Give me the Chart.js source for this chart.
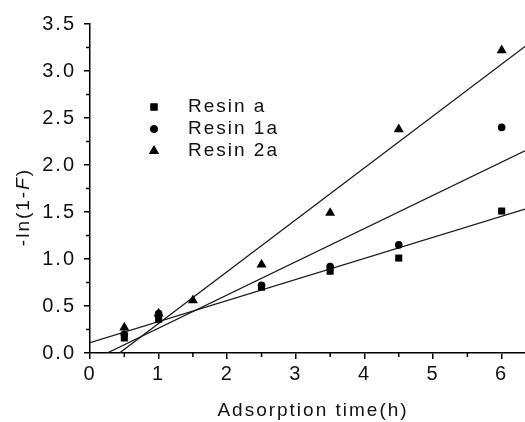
<!DOCTYPE html>
<html>
<head>
<meta charset="utf-8">
<script src="https://cdn.jsdelivr.net/npm/chart.js@4/dist/chart.umd.min.js"></script>
<style>
  html, body { margin: 0; padding: 0; background: #fff; }
  #c { display: block; }
</style>
</head>
<body>
<canvas id="c" width="525" height="422"></canvas>
<script>
// ---- data ----
const times    = [0.5, 1, 1.5, 2.5, 3.5, 4.5, 6];
const resinA   = [0.16, 0.36, null, 0.70, 0.87, 1.01, 1.51];
const resin1a  = [0.20, 0.42, null, 0.72, 0.92, 1.15, 2.40];
const resin2a  = [0.27, 0.42, 0.56, 0.94, 1.49, 2.38, 3.22];

// fitted straight lines (end points)
const fitAX  = [0, 6.34],    fitAY  = [0.11, 1.53];
const fit1aX = [0.25, 6.34], fit1aY = [0, 2.15];
const fit2aX = [0.43, 6.34], fit2aY = [0, 3.26];

const seriesNames = ['Resin a', 'Resin 1a', 'Resin 2a'];
const yTicks = [0, 0.5, 1.0, 1.5, 2.0, 2.5, 3.0, 3.5];
const xTicks = [0, 1, 2, 3, 4, 5, 6];

const pts = (xs, ys) => xs.map((x, i) => ({ x: x, y: ys[i] })).filter(p => p.y !== null);

const FONT = "'Liberation Sans', Arial, sans-serif";
const INK = '#111';

const styles = [
  { pointStyle: 'rect', radius: 5 },
  { pointStyle: 'circle', radius: 3.8 },
  { pointStyle: 'triangle', radius: 5.8 }
];

const scatterDs = (label, ys, st) => ({
  label: label,
  data: pts(times, ys),
  showLine: false,
  pointStyle: st.pointStyle,
  pointRadius: st.radius,
  pointHoverRadius: st.radius,
  backgroundColor: '#000',
  borderColor: '#000',
  borderWidth: 0
});
const lineDs = (xs, ys) => ({
  label: 'fit',
  data: pts(xs, ys),
  showLine: true,
  pointRadius: 0,
  borderColor: '#1a1a1a',
  borderWidth: 1.3,
  fill: false
});

const decor = {
  id: 'decor',
  beforeDraw(chart) { chart.ctx.letterSpacing = '2px'; },
  afterDraw(chart) {
    const ctx = chart.ctx;
    const xs = chart.scales.x, ys = chart.scales.y;
    ctx.save();
    ctx.strokeStyle = '#000';
    ctx.lineWidth = 1.5;
    // minor ticks
    ctx.beginPath();
    for (let v = 0.25; v < 3.5; v += 0.5) {
      const py = ys.getPixelForValue(v);
      ctx.moveTo(xs.left, py); ctx.lineTo(xs.left - 4, py);
    }
    for (let v = 0.5; v < 6.34; v += 1) {
      const px = xs.getPixelForValue(v);
      ctx.moveTo(px, ys.bottom); ctx.lineTo(px, ys.bottom + 4);
    }
    ctx.stroke();

    // legend
    ctx.fillStyle = '#000';
    ctx.letterSpacing = '2px';
    ctx.font = '19px ' + FONT;
    ctx.textBaseline = 'middle';
    ctx.textAlign = 'left';
    const rowsY = [107, 129, 151];
    seriesNames.forEach((n, i) => {
      Chart.helpers.drawPoint(ctx, { pointStyle: styles[i].pointStyle, radius: styles[i].radius, rotation: 0, borderWidth: 0 }, 154, rowsY[i]);
      ctx.fill();
      ctx.fillStyle = INK;
      ctx.fillText(n, 188, rowsY[i]);
      ctx.fillStyle = '#000';
    });

    // x title
    ctx.fillStyle = INK;
    ctx.textAlign = 'center';
    ctx.font = '19px ' + FONT;
    ctx.fillText('Adsorption time(h)', 313, 411);

    // y title with italic F
    ctx.translate(23.5, 207);
    ctx.rotate(-Math.PI / 2);
    ctx.textAlign = 'left';
    const parts = [['-ln(1-', ''], ['F', 'italic '], [')', '']];
    let total = 0;
    parts.forEach(p => { ctx.font = p[1] + '19px ' + FONT; total += ctx.measureText(p[0]).width; });
    let cx = -total / 2;
    parts.forEach(p => { ctx.font = p[1] + '19px ' + FONT; ctx.fillText(p[0], cx, 0); cx += ctx.measureText(p[0]).width; });
    ctx.restore();
  }
};

new Chart(document.getElementById('c'), {
  type: 'scatter',
  data: {
    datasets: [
      scatterDs(seriesNames[0], resinA, styles[0]),
      scatterDs(seriesNames[1], resin1a, styles[1]),
      scatterDs(seriesNames[2], resin2a, styles[2]),
      lineDs(fitAX, fitAY),
      lineDs(fit1aX, fit1aY),
      lineDs(fit2aX, fit2aY)
    ]
  },
  options: {
    responsive: false,
    animation: false,
    devicePixelRatio: 1,
    layout: { autoPadding: false, padding: { top: 24, right: 0, left: 0, bottom: 0 } },
    plugins: { legend: { display: false }, tooltip: { enabled: false }, title: { display: false } },
    scales: {
      x: {
        type: 'linear',
        min: 0, max: 6.34,
        afterBuildTicks: s => { s.ticks = xTicks.map(v => ({ value: v })); },
        ticks: { font: { family: FONT, size: 20 }, color: INK, padding: 3, maxRotation: 0, autoSkip: false,
                 callback: v => String(v) },
        grid: { display: true, drawOnChartArea: false, drawTicks: true, tickLength: 6, color: '#000', lineWidth: 1.5 },
        border: { display: true, color: '#000', width: 1.5 },
        afterFit: s => { s.height = 69; s.paddingRight = 0; s.paddingLeft = 0; }
      },
      y: {
        type: 'linear',
        min: 0, max: 3.5,
        afterBuildTicks: s => { s.ticks = yTicks.map(v => ({ value: v })); },
        ticks: { font: { family: FONT, size: 20 }, color: INK, padding: 8, autoSkip: false,
                 callback: v => Number(v).toFixed(1) },
        grid: { display: true, drawOnChartArea: false, drawTicks: true, tickLength: 6, color: '#000', lineWidth: 1.5 },
        border: { display: true, color: '#000', width: 1.5 },
        afterFit: s => { s.width = 90; }
      }
    }
  },
  plugins: [decor]
});
</script>
</body>
</html>
